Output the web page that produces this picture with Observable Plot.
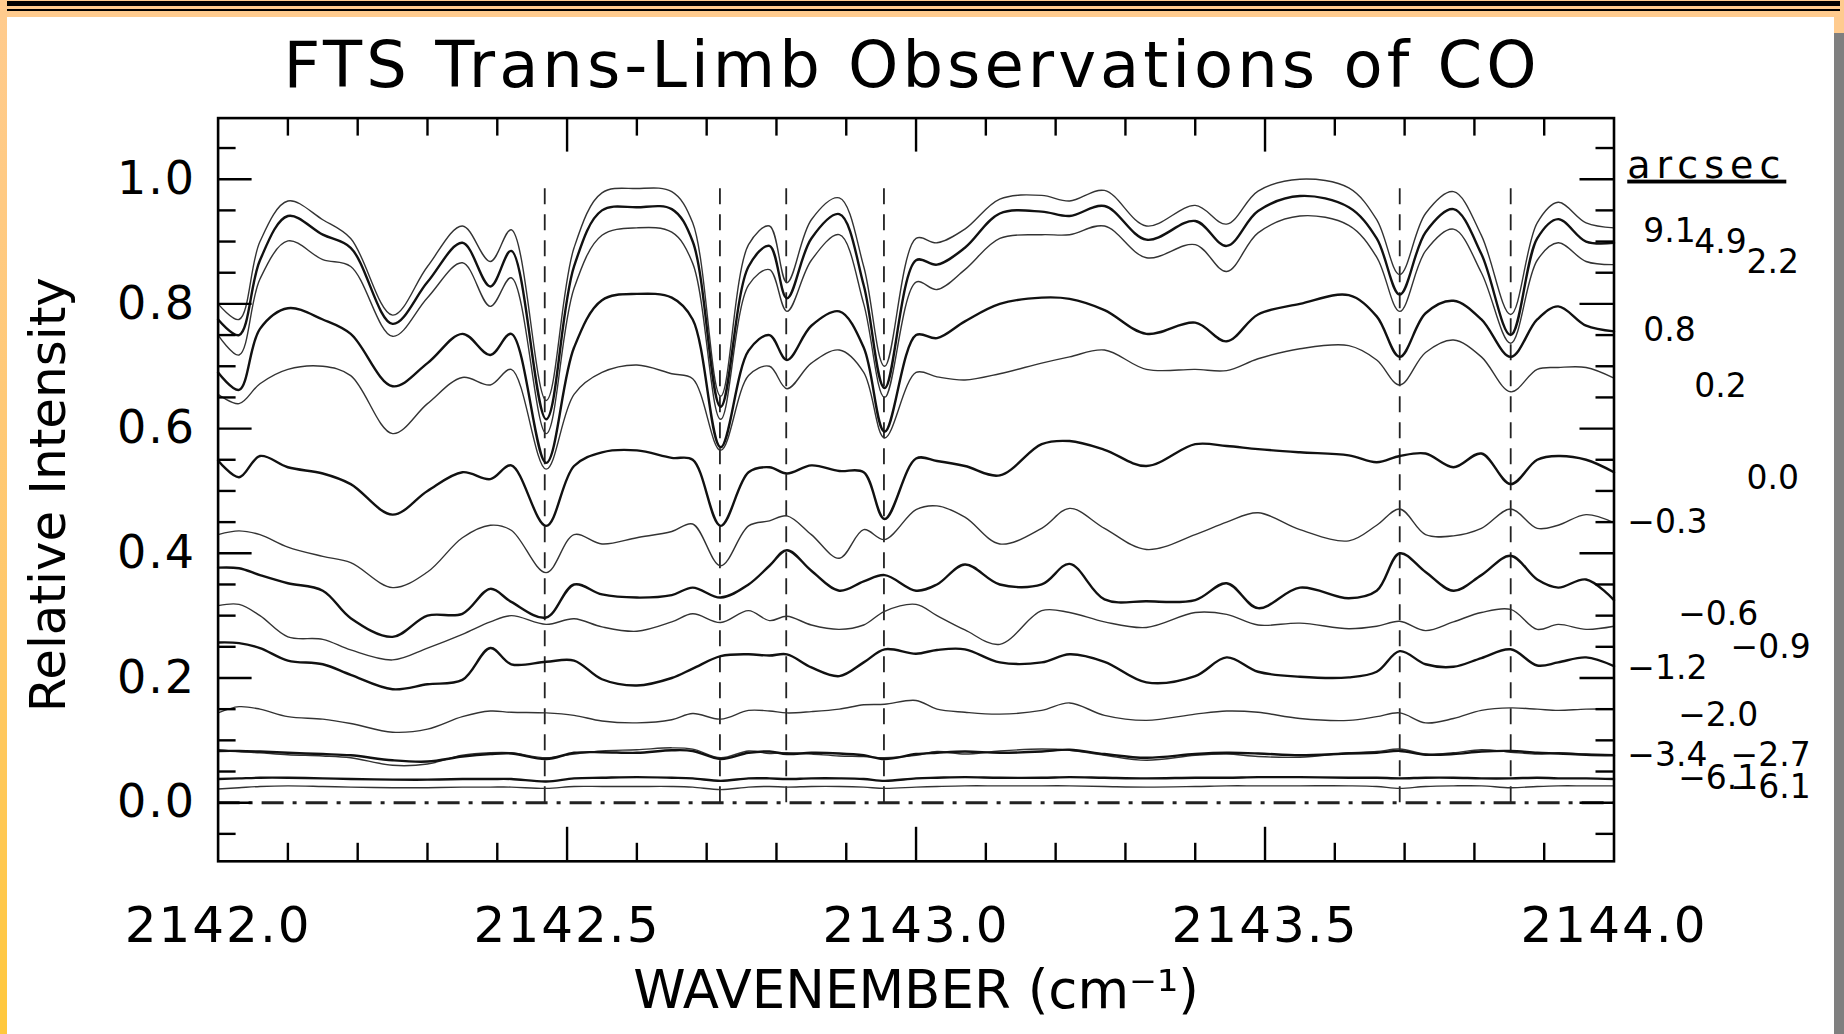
<!DOCTYPE html>
<html>
<head>
<meta charset="utf-8">
<script src="https://cdn.jsdelivr.net/npm/d3@7"></script>
<script src="https://cdn.jsdelivr.net/npm/@observablehq/plot@0.6"></script>
<style>
  html, body { margin: 0; padding: 0; background: #fff; }
  #page { position: relative; width: 1844px; height: 1034px; overflow: hidden; background: #fff; font-family: "DejaVu Sans", sans-serif; }
  #chart { position: absolute; left: 0; top: 100px; }
  #title { position: absolute; left: 0; top: 33px; width: 1824px; text-align: center; font-size: 64px; line-height: 64px; letter-spacing: 4px; color: #000; }
  .deco { position: absolute; }
  #topband { left: 0; top: 0; width: 1844px; height: 17px; background: #ffcb8e; }
  #topbar1 { left: 7px; top: 1px; width: 1833px; height: 5px; background: #000; }
  #topbar2 { left: 7px; top: 9px; width: 1833px; height: 2px; background: #000; }
  #leftbar { left: 0; top: 0; width: 7px; height: 1034px; background: linear-gradient(#ffcb8e, #ffc86a 60%, #ffc83c); }
  #rightorange { left: 1834px; top: 17px; width: 10px; height: 16px; background: #ffcb8e; }
  #rightgray { left: 1834px; top: 33px; width: 10px; height: 1001px; background: #7f7f7f; }
  .arcsec text { text-decoration: underline; letter-spacing: 6px; }
  .xtl text { letter-spacing: 2px; }
  .ytl text { letter-spacing: 2px; }
</style>
</head>
<body>
<div id="page">
  <div id="chart"></div>
  <div id="title">FTS Trans-Limb Observations of CO</div>
  <div class="deco" id="topband"></div>
  <div class="deco" id="topbar1"></div>
  <div class="deco" id="topbar2"></div>
  <div class="deco" id="leftbar"></div>
  <div class="deco" id="rightorange"></div>
  <div class="deco" id="rightgray"></div>
</div>
<script>
// ---------------- DATA ----------------
const wavenumber = [2142.000, 2142.030, 2142.060, 2142.100, 2142.150, 2142.190, 2142.250, 2142.300, 2142.350, 2142.390,
  2142.420, 2142.470, 2142.510, 2142.550, 2142.600, 2142.650, 2142.680, 2142.720, 2142.760, 2142.790,
  2142.815, 2142.850, 2142.890, 2142.925, 2142.955, 2143.000, 2143.030, 2143.070, 2143.120, 2143.180,
  2143.220, 2143.270, 2143.330, 2143.400, 2143.445, 2143.490, 2143.550, 2143.620, 2143.660, 2143.693,
  2143.730, 2143.770, 2143.810, 2143.852, 2143.890, 2143.920, 2143.960, 2144.000];

const arcsecLabels = ["9.1", "4.9", "2.2", "0.8", "0.2", "0.0", "−0.3", "−0.6", "−0.9", "−1.2", "−2.0", "−2.7", "−3.4", "−6.1", "−6.1"];

const i_9_1 = [0.800, 0.775, 0.900, 0.965, 0.935, 0.905, 0.782, 0.860, 0.925, 0.868, 0.919, 0.645, 0.890, 0.978, 0.985, 0.980, 0.930, 0.652, 0.895, 0.925, 0.834, 0.935, 0.970, 0.860, 0.700, 0.905, 0.898, 0.920, 0.968, 0.974, 0.965, 0.982, 0.925, 0.958, 0.928, 0.981, 1.000, 0.986, 0.935, 0.847, 0.945, 0.980, 0.910, 0.783, 0.930, 0.963, 0.930, 0.922];
const i_4_9 = [0.775, 0.750, 0.870, 0.941, 0.911, 0.890, 0.768, 0.835, 0.898, 0.828, 0.885, 0.615, 0.860, 0.950, 0.955, 0.952, 0.900, 0.635, 0.860, 0.893, 0.809, 0.905, 0.944, 0.830, 0.665, 0.870, 0.863, 0.890, 0.945, 0.948, 0.941, 0.957, 0.903, 0.933, 0.893, 0.949, 0.973, 0.955, 0.905, 0.815, 0.915, 0.952, 0.880, 0.750, 0.905, 0.936, 0.900, 0.898];
const i_2_2 = [0.750, 0.718, 0.840, 0.901, 0.871, 0.860, 0.748, 0.810, 0.866, 0.796, 0.842, 0.592, 0.825, 0.910, 0.922, 0.915, 0.865, 0.615, 0.830, 0.855, 0.788, 0.870, 0.911, 0.800, 0.650, 0.835, 0.823, 0.855, 0.905, 0.911, 0.911, 0.925, 0.874, 0.895, 0.852, 0.914, 0.941, 0.926, 0.875, 0.788, 0.885, 0.920, 0.850, 0.737, 0.870, 0.898, 0.868, 0.863];
const i_0_8 = [0.690, 0.662, 0.760, 0.793, 0.775, 0.752, 0.668, 0.705, 0.752, 0.718, 0.752, 0.545, 0.730, 0.806, 0.816, 0.810, 0.775, 0.570, 0.725, 0.750, 0.710, 0.765, 0.788, 0.730, 0.595, 0.750, 0.745, 0.772, 0.800, 0.810, 0.808, 0.790, 0.752, 0.770, 0.740, 0.783, 0.800, 0.814, 0.780, 0.715, 0.785, 0.805, 0.775, 0.715, 0.775, 0.796, 0.765, 0.756];
const i_0_2 = [0.655, 0.640, 0.672, 0.695, 0.700, 0.685, 0.592, 0.640, 0.682, 0.670, 0.695, 0.535, 0.655, 0.690, 0.702, 0.688, 0.680, 0.565, 0.685, 0.700, 0.664, 0.705, 0.726, 0.690, 0.585, 0.690, 0.683, 0.678, 0.688, 0.705, 0.715, 0.726, 0.695, 0.695, 0.693, 0.712, 0.728, 0.733, 0.710, 0.670, 0.722, 0.742, 0.715, 0.659, 0.695, 0.698, 0.698, 0.681];
const i_0_0 = [0.549, 0.522, 0.556, 0.538, 0.528, 0.511, 0.462, 0.500, 0.530, 0.519, 0.541, 0.444, 0.540, 0.562, 0.565, 0.553, 0.550, 0.444, 0.530, 0.538, 0.528, 0.541, 0.532, 0.530, 0.455, 0.552, 0.548, 0.540, 0.525, 0.575, 0.580, 0.566, 0.540, 0.575, 0.572, 0.567, 0.562, 0.557, 0.546, 0.556, 0.560, 0.538, 0.560, 0.511, 0.550, 0.556, 0.550, 0.530];
const i_m0_3 = [0.430, 0.436, 0.430, 0.410, 0.395, 0.385, 0.345, 0.370, 0.425, 0.445, 0.437, 0.369, 0.430, 0.415, 0.425, 0.435, 0.447, 0.380, 0.444, 0.452, 0.460, 0.430, 0.392, 0.438, 0.422, 0.470, 0.476, 0.458, 0.415, 0.440, 0.472, 0.440, 0.406, 0.430, 0.450, 0.465, 0.438, 0.420, 0.445, 0.471, 0.430, 0.428, 0.440, 0.471, 0.440, 0.445, 0.462, 0.449];
const i_m0_6 = [0.377, 0.376, 0.365, 0.352, 0.340, 0.296, 0.266, 0.300, 0.303, 0.343, 0.322, 0.297, 0.350, 0.334, 0.329, 0.333, 0.345, 0.329, 0.350, 0.380, 0.405, 0.372, 0.340, 0.355, 0.365, 0.340, 0.350, 0.382, 0.350, 0.350, 0.383, 0.326, 0.323, 0.325, 0.352, 0.312, 0.345, 0.328, 0.340, 0.400, 0.370, 0.340, 0.365, 0.396, 0.358, 0.345, 0.358, 0.325];
const i_m0_9 = [0.316, 0.318, 0.300, 0.266, 0.262, 0.245, 0.229, 0.248, 0.270, 0.290, 0.300, 0.286, 0.295, 0.282, 0.275, 0.290, 0.303, 0.289, 0.308, 0.292, 0.299, 0.285, 0.278, 0.285, 0.307, 0.318, 0.300, 0.277, 0.254, 0.308, 0.305, 0.290, 0.281, 0.305, 0.302, 0.285, 0.288, 0.279, 0.283, 0.291, 0.276, 0.290, 0.305, 0.310, 0.278, 0.286, 0.278, 0.283];
const i_m1_2 = [0.257, 0.256, 0.248, 0.228, 0.222, 0.205, 0.182, 0.190, 0.197, 0.248, 0.222, 0.226, 0.228, 0.198, 0.188, 0.200, 0.215, 0.235, 0.238, 0.236, 0.238, 0.217, 0.203, 0.225, 0.246, 0.239, 0.245, 0.246, 0.225, 0.225, 0.238, 0.226, 0.193, 0.203, 0.233, 0.210, 0.202, 0.201, 0.210, 0.243, 0.222, 0.218, 0.232, 0.246, 0.220, 0.225, 0.233, 0.219];
const i_m2_0 = [0.144, 0.154, 0.150, 0.138, 0.134, 0.127, 0.113, 0.118, 0.138, 0.147, 0.145, 0.144, 0.140, 0.131, 0.128, 0.133, 0.143, 0.134, 0.148, 0.147, 0.144, 0.146, 0.150, 0.157, 0.158, 0.164, 0.150, 0.145, 0.142, 0.148, 0.160, 0.140, 0.132, 0.142, 0.147, 0.145, 0.135, 0.132, 0.138, 0.144, 0.128, 0.135, 0.148, 0.152, 0.150, 0.148, 0.150, 0.150];
const i_m2_7 = [0.085, 0.082, 0.080, 0.077, 0.075, 0.072, 0.060, 0.062, 0.076, 0.080, 0.080, 0.072, 0.078, 0.083, 0.085, 0.088, 0.086, 0.072, 0.083, 0.079, 0.080, 0.078, 0.075, 0.074, 0.072, 0.076, 0.082, 0.078, 0.083, 0.086, 0.084, 0.076, 0.068, 0.076, 0.078, 0.074, 0.073, 0.080, 0.082, 0.086, 0.078, 0.080, 0.085, 0.081, 0.078, 0.080, 0.078, 0.077];
const i_m3_4 = [0.083, 0.083, 0.082, 0.080, 0.078, 0.076, 0.068, 0.066, 0.074, 0.078, 0.079, 0.070, 0.080, 0.081, 0.080, 0.084, 0.083, 0.070, 0.080, 0.082, 0.078, 0.080, 0.079, 0.076, 0.070, 0.078, 0.080, 0.082, 0.080, 0.082, 0.085, 0.078, 0.072, 0.078, 0.080, 0.079, 0.076, 0.079, 0.080, 0.083, 0.077, 0.078, 0.082, 0.083, 0.080, 0.079, 0.077, 0.076];
const i_m6_1a = [0.038, 0.039, 0.040, 0.040, 0.039, 0.038, 0.037, 0.037, 0.038, 0.038, 0.038, 0.034, 0.039, 0.040, 0.041, 0.040, 0.039, 0.035, 0.039, 0.039, 0.038, 0.039, 0.039, 0.038, 0.035, 0.039, 0.040, 0.041, 0.040, 0.040, 0.041, 0.040, 0.039, 0.040, 0.040, 0.041, 0.041, 0.040, 0.040, 0.039, 0.040, 0.040, 0.039, 0.039, 0.040, 0.039, 0.039, 0.038];
const i_m6_1b = [0.022, 0.024, 0.026, 0.027, 0.026, 0.025, 0.024, 0.024, 0.025, 0.025, 0.025, 0.023, 0.026, 0.026, 0.026, 0.026, 0.025, 0.021, 0.025, 0.026, 0.025, 0.026, 0.026, 0.025, 0.023, 0.025, 0.026, 0.027, 0.027, 0.027, 0.027, 0.026, 0.025, 0.026, 0.027, 0.027, 0.027, 0.027, 0.026, 0.023, 0.026, 0.027, 0.027, 0.024, 0.026, 0.027, 0.027, 0.027];

const seriesValues = [i_9_1, i_4_9, i_2_2, i_0_8, i_0_2, i_0_0, i_m0_3, i_m0_6, i_m0_9, i_m1_2, i_m2_0, i_m2_7, i_m3_4, i_m6_1a, i_m6_1b];

// CO line centres (dashed markers)
const lineCentres = [2142.468, 2142.719, 2142.814, 2142.954, 2143.693, 2143.852];

// axis ticks
const xLabelTicks = [2142.0, 2142.5, 2143.0, 2143.5, 2144.0];
const xMajorTicks = [2142.5, 2143.0, 2143.5];
const xMinorTicks = [2142.1, 2142.2, 2142.3, 2142.4, 2142.6, 2142.7, 2142.8, 2142.9, 2143.1, 2143.2, 2143.3, 2143.4, 2143.6, 2143.7, 2143.8, 2143.9];
const yMajorTicks = [0.0, 0.2, 0.4, 0.6, 0.8, 1.0];
const yMinorTicks = [-0.05, 0.05, 0.1, 0.15, 0.25, 0.3, 0.35, 0.45, 0.5, 0.55, 0.65, 0.7, 0.75, 0.85, 0.9, 0.95, 1.05];

// ---------------- LAYOUT / STYLE ----------------
const W = 1844, H = 934;
const mL = 217.6, mR = 230.5, mT = 17.6, mB = 173.2;
const innerW = W - mL - mR, innerH = H - mT - mB;
const minorLen = 18, majorLen = 34;
const dashTop = 0.985;
const thickIdx = new Set([1, 3, 5, 7, 9, 12, 13]);

// label placement (wavenumber-x beyond the frame, intensity-y) in three staggered columns
const colX = [2144.019, 2144.092, 2144.167];
const minusShift = 0.023;
const labelCol = [0, 1, 2, 0, 1, 2, 0, 1, 2, 0, 1, 2, 0, 1, 2];
const labelY = [0.917, 0.899, 0.866, 0.757, 0.668, 0.520, 0.450, 0.302, 0.249, 0.216, 0.140, 0.076, 0.076, 0.039, 0.024];

const rowsThin = [], rowsThick = [];
seriesValues.forEach((vals, s) => {
  vals.forEach((v, i) => {
    const r = {wn: wavenumber[i], intensity: v, id: s};
    (thickIdx.has(s) ? rowsThick : rowsThin).push(r);
  });
});

const labelRows = arcsecLabels.map((t, i) => ({
  text: t,
  x: colX[labelCol[i]] + (t.startsWith("−") ? 0 : minusShift),
  y: labelY[i]
}));

const chart = Plot.plot({
  width: W, height: H,
  marginLeft: mL, marginRight: mR, marginTop: mT, marginBottom: mB,
  x: {domain: [2142, 2144], axis: null},
  y: {domain: [-0.094, 1.098], axis: null},
  style: {fontFamily: "DejaVu Sans", fontSize: "46px", background: "transparent", color: "#000", overflow: "visible"},
  marks: [
    Plot.ruleX(lineCentres, {x: d => d, y1: 0, y2: dashTop, stroke: "#222", strokeWidth: 1.8, strokeDasharray: "16,10"}),
    Plot.ruleY([0], {stroke: "#222", strokeWidth: 3, strokeDasharray: "22,9,4,9"}),
    Plot.line(rowsThin, {x: "wn", y: "intensity", z: "id", curve: "catmull-rom", stroke: "#333", strokeWidth: 1.4}),
    Plot.line(rowsThick, {x: "wn", y: "intensity", z: "id", curve: "catmull-rom", stroke: "#111", strokeWidth: 2.4}),
    // ticks pointing inwards
    Plot.tickX(xMinorTicks, {x: d => d, insetBottom: innerH - minorLen, stroke: "#000", strokeWidth: 2.4}),
    Plot.tickX(xMajorTicks, {x: d => d, insetBottom: innerH - majorLen, stroke: "#000", strokeWidth: 2.4}),
    Plot.tickX(xMinorTicks, {x: d => d, insetTop: innerH - minorLen, stroke: "#000", strokeWidth: 2.4}),
    Plot.tickX(xMajorTicks, {x: d => d, insetTop: innerH - majorLen, stroke: "#000", strokeWidth: 2.4}),
    Plot.tickY(yMinorTicks, {y: d => d, insetRight: innerW - minorLen, stroke: "#000", strokeWidth: 2.4}),
    Plot.tickY(yMajorTicks, {y: d => d, insetRight: innerW - majorLen, stroke: "#000", strokeWidth: 2.4}),
    Plot.tickY(yMinorTicks, {y: d => d, insetLeft: innerW - minorLen, stroke: "#000", strokeWidth: 2.4}),
    Plot.tickY(yMajorTicks, {y: d => d, insetLeft: innerW - majorLen, stroke: "#000", strokeWidth: 2.4}),
    Plot.frame({stroke: "#000", strokeWidth: 2.6}),
    // tick labels
    Plot.text(xLabelTicks, {x: d => d, text: d => d.toFixed(1), frameAnchor: "bottom", lineAnchor: "bottom", dy: 81, fontSize: 50, fill: "#000", className: "xtl"}),
    Plot.text(yMajorTicks, {y: d => d, text: d => d.toFixed(1), frameAnchor: "left", textAnchor: "end", dx: -22, fontSize: 46, fill: "#000", className: "ytl"}),
    // axis titles
    Plot.text(["WAVENEMBER (cm⁻¹)"], {frameAnchor: "bottom", lineAnchor: "bottom", dy: 147, fontSize: 53, fill: "#000"}),
    Plot.text(["Relative Intensity"], {frameAnchor: "left", textAnchor: "middle", rotate: -90, dx: -169, dy: 5, fontSize: 50, fill: "#000"}),
    // series labels
    Plot.text(["arcsec"], {x: colX[0], y: 1.022, textAnchor: "start", fontSize: 38, fill: "#000", className: "arcsec"}),
    Plot.text(labelRows, {x: "x", y: "y", text: "text", textAnchor: "start", fontSize: 33, fill: "#000"})
  ]
});
document.getElementById("chart").appendChild(chart);
</script>
</body>
</html>
